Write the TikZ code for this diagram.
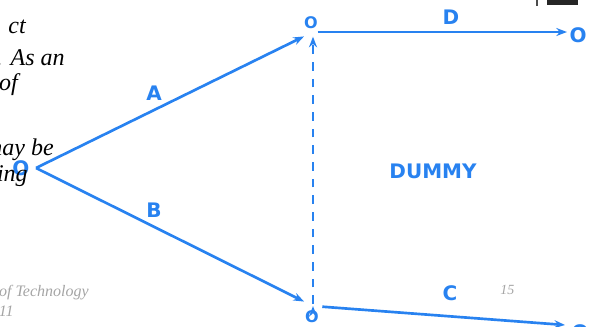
\documentclass[tikz,border=0pt]{standalone}
\usepackage{fontspec}
\setmainfont{Liberation Serif}
\newfontfamily\labelfont{DejaVu Sans}
\usetikzlibrary{arrows.meta}
\definecolor{netblue}{RGB}{40,130,240}
\definecolor{slidegray}{RGB}{165,165,165}

\begin{document}
\begin{tikzpicture}[x=0.75pt, y=-0.75pt,
   act/.style={draw=netblue, line width=2pt, -{Stealth[length=8pt, width=6pt]}},
   dummy/.style={dash pattern=on 6.5pt off 6pt},
   evt/.style={text=netblue, inner sep=0pt, font=\labelfont\bfseries\fontsize{12}{14}\selectfont},
   bigevt/.style={evt, font=\labelfont\bfseries\fontsize{15}{17}\selectfont},
   tag/.style={text=netblue, inner sep=0pt, font=\labelfont\bfseries\fontsize{15}{18}\selectfont},
   slide/.style={inner sep=0pt, anchor=base east, font=\itshape\fontsize{18}{22}\selectfont},
   foot/.style={slide, text=slidegray, font=\itshape\fontsize{12}{14}\selectfont}]
   \useasboundingbox (0,0) rectangle (590,326);
   \clip (0,0) rectangle (590,326);

   % events
   \node[bigevt] (o1) at (21,168) {O};
   \node[evt] (o2) at (311,23) {O};
   \node[evt] (o3) at (312,317) {O};
   \node[bigevt] (o4) at (578,35) {O};
   \node[bigevt] (o5) at (580,332) {O};

   % points where the arrows meet
   \coordinate (j1) at (36,168);
   \coordinate (j2) at (313,32);
   \coordinate (j3) at (313,306);
   \coordinate (j4) at (567,32);
   \coordinate (j5) at (565,325);

   \path[act]
   (j1) edge [shorten >=7.5pt] (j2)
   (j1) edge [shorten >=7.5pt] (j3)
   (j2) edge [shorten <=3.5pt, shorten >=0pt] (j4)
   (j3) edge [dummy, shorten <=1.5pt, shorten >=3.5pt] (j2)
   (j3) edge [shorten <=7pt] (j5)
   ;

   % activity labels
   \node[tag] (lA) at (154,93) {A};
   \node[tag] (lB) at (154,210) {B};
   \node[tag] (lD) at (451,17) {D};
   \node[tag] (lC) at (450,293) {C};
   \node[tag] (lDummy) at (433,171) {DUMMY};

   % slide text behind the picture
   \node[slide] (t1) at (26,33) {ct};
   \node[slide] (t2) at (65,65) {. As an};
   \node[slide] (t3) at (18,90) {of};
   \node[slide] (t4) at (54,155) {nay be};
   \node[slide] (t5) at (28,181) {ing};
   \node[foot] (f1) at (89,296) {of Technology};
   \node[foot] (f2) at (14,316) {\#11};
   \node[foot, anchor=base west, font=\itshape\fontsize{10.5}{12}\selectfont] (f3) at (500,294) {15};

   \fill[black!85] (547,0) rectangle (578,5);
   \draw[black!70, line width=0.8pt] (537,0) -- (537,6);
\end{tikzpicture}
\end{document}
